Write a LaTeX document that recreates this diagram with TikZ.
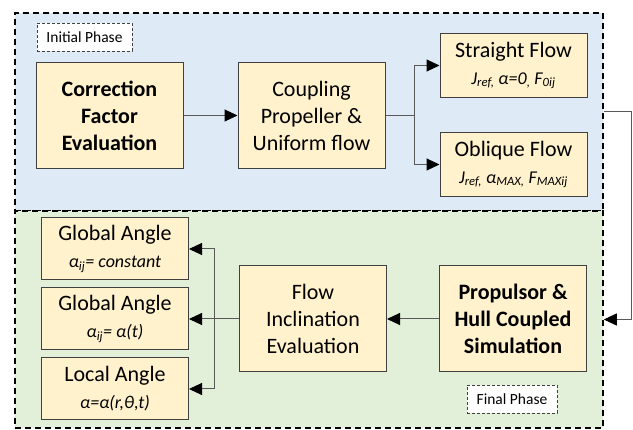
\documentclass[tikz,border=0pt]{standalone}
\usepackage{fontspec}
\setmainfont{Carlito}
\usetikzlibrary{arrows.meta, positioning}
\definecolor{phaseblue}{HTML}{DEEBF7}
\definecolor{phasegreen}{HTML}{E2F0D9}
\definecolor{boxfill}{HTML}{FFF2CC}
\definecolor{boxline}{HTML}{404040}
\definecolor{linegray}{HTML}{595959}
\newcommand{\subline}[1]{{\fontsize{18}{21}\selectfont\itshape #1}}

\begin{document}
\begin{tikzpicture}[
    x=1pt, y=1pt,
    every node/.style={font=\fontsize{22}{27}\selectfont},
    block/.style={draw=boxline, fill=boxfill, line width=1pt, minimum width=147pt, minimum height=106pt, align=center, inner sep=2pt},
    key/.style={block, font=\fontsize{22}{27}\selectfont\bfseries},
    result/.style={block, minimum height=64pt},
    angle/.style={result, minimum height=62pt},
    region/.style={draw=black, dash pattern=on 6pt off 4pt, line width=1.6pt, minimum width=588pt, inner sep=0pt},
    tag/.style={draw=black!75, dash pattern=on 3pt off 2pt, fill=white, line width=0.8pt, minimum height=28pt, inner sep=0pt, font=\fontsize{15.5}{18}\selectfont},
    arrow/.style={-{Triangle[length=13pt, width=12pt, color=black]}, line width=1pt, draw=linegray}
]
    \useasboundingbox (0,0) rectangle (633,-430);

    % phase backgrounds
    \node[region, fill=phaseblue, minimum height=198pt] (initial) at (309,-112) {};
    \node[region, fill=phasegreen, minimum height=217pt] (final) at (309,-319.5) {};
    \node[tag, minimum width=95pt] (initag) at (84.5,-37) {Initial Phase};
    \node[tag, minimum width=90pt] (fintag) at (512,-399) {Final Phase};

    % initial phase
    \node[key] (corr) at (109.5,-115.5) {Correction\\Factor\\Evaluation};
    \node[block, right=54pt of corr] (coup) {Coupling\\Propeller \&\\Uniform flow};
    \node[result, right=54pt of coup, yshift=50pt] (straight) {Straight Flow\\\subline{J\textsubscript{ref,} α=0\textsubscript{,} F\textsubscript{0ij}}};
    \node[result, below=34pt of straight] (oblique) {Oblique Flow\\\subline{J\textsubscript{ref,} α\textsubscript{MAX,} F\textsubscript{MAXij}}};

    % final phase
    \node[key] (prop) at (513,-319) {Propulsor \&\\Hull Coupled\\Simulation};
    \node[block, left=52pt of prop] (flow) {Flow\\Inclination\\Evaluation};
    \node[angle, left=50pt of flow] (g2) {Global Angle\\\subline{α\textsubscript{ij}= α(t)}};
    \node[angle, above=7pt of g2] (g1) {Global Angle\\\subline{α\textsubscript{ij}= constant}};
    \node[angle, below=7pt of g2] (loc) {Local Angle\\\subline{α=α(r,θ,t)}};

    \draw[arrow] (corr) -- (coup);
    \draw[arrow] (coup.east) -- ++(29,0) |- (straight);
    \draw[arrow] (coup.east) -- ++(29,0) |- (oblique);
    \draw[arrow] (initial.east) -- ++(28,0) |- (final.east);
    \draw[arrow] (prop) -- (flow);
    \draw[arrow] (flow.west) -- ++(-25,0) |- (g1);
    \draw[arrow] (flow) -- (g2);
    \draw[arrow] (flow.west) -- ++(-25,0) |- (loc);
\end{tikzpicture}
\end{document}
